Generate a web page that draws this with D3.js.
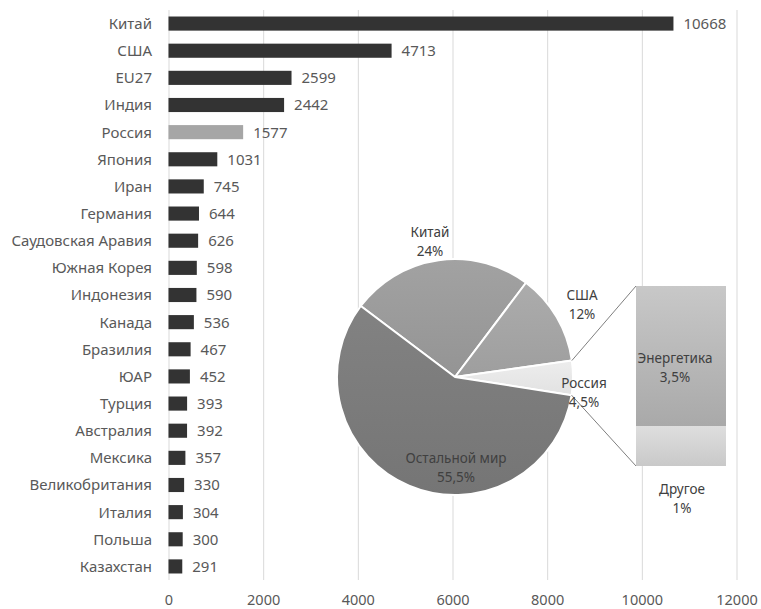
<!DOCTYPE html>
<html>
<head>
<meta charset="utf-8">
<script src="https://cdn.jsdelivr.net/npm/d3@7"></script>
<style>
  html, body { margin: 0; padding: 0; background: #fff; }
  svg { display: block; font-family: "Noto Sans", "DejaVu Sans", sans-serif; }
</style>
</head>
<body>
<svg id="chart" width="761" height="609"></svg>
<script>
// CO2 emissions by country (bars), world shares (pie) and Russia's breakdown (stacked bar)
const categories = ["Китай", "США", "EU27", "Индия", "Россия", "Япония", "Иран", "Германия",
  "Саудовская Аравия", "Южная Корея", "Индонезия", "Канада", "Бразилия", "ЮАР", "Турция",
  "Австралия", "Мексика", "Великобритания", "Италия", "Польша", "Казахстан"];
const emissions = [10668, 4713, 2599, 2442, 1577, 1031, 745, 644, 626, 598, 590, 536, 467, 452,
  393, 392, 357, 330, 304, 300, 291];
const highlighted = "Россия";
const xTicks = [0, 2000, 4000, 6000, 8000, 10000, 12000];

const shareNames = ["Китай", "США", "Россия", "Остальной мир"];
const shareValues = [24, 12, 4.5, 55.5];

const russiaParts = ["Энергетика", "Другое"];
const russiaValues = [3.5, 1];

// ---- layout ----
const W = 761, H = 609;
const plot = { left: 168.5, right: 736.5, top: 10, bottom: 580 };
const pieCenter = { x: 455, y: 377 };
const pieRadius = 118;
const pieStartDeg = -53;
const stackBox = { x0: 636, x1: 726, y0: 286, y1: 466 };

const ru = d3.formatLocale({ decimal: ",", thousands: "\u00a0", grouping: [3], currency: ["", " ₽"] });
const pct = v => ru.format(".3~r")(v) + "%";

const svg = d3.select("#chart");

const x = d3.scaleLinear().domain([0, 12000]).range([plot.left, plot.right]);
const y = d3.scaleBand().domain(categories).range([plot.top, plot.bottom])
  .paddingInner(0.48).paddingOuter(0.24);

// vertical gridlines
svg.append("g")
  .attr("transform", `translate(0,${plot.bottom})`)
  .call(d3.axisBottom(x).tickValues(xTicks).tickSize(-(plot.bottom - plot.top)).tickFormat(""))
  .call(g => g.select(".domain").remove())
  .call(g => g.selectAll("line").attr("stroke", "#d9d9d9").attr("stroke-width", 1));

// x axis labels
svg.append("g")
  .attr("transform", `translate(0,${plot.bottom})`)
  .call(d3.axisBottom(x).tickValues(xTicks).tickSize(0).tickPadding(15).tickFormat(d3.format("d")))
  .call(g => g.select(".domain").remove())
  .call(g => g.selectAll("text").attr("fill", "#595959").style("font-size", "14.5px")
    .style("font-family", "'Noto Sans', sans-serif"));

// bars
const rows = categories.map((c, i) => ({ name: c, value: emissions[i] }));
svg.append("g").selectAll("rect").data(rows).join("rect")
  .attr("x", x(0))
  .attr("y", d => y(d.name))
  .attr("width", d => x(d.value) - x(0))
  .attr("height", y.bandwidth())
  .attr("fill", d => d.name === highlighted ? "#a6a6a6" : "#333333");

// category labels
svg.append("g").selectAll("text").data(rows).join("text")
  .attr("x", 152)
  .attr("y", d => y(d.name) + y.bandwidth() / 2)
  .attr("dy", "0.36em")
  .attr("text-anchor", "end")
  .attr("fill", "#595959")
  .style("font-size", "15px")
  .text(d => d.name);

// value labels
svg.append("g").selectAll("text").data(rows).join("text")
  .attr("x", d => x(d.value) + 10)
  .attr("y", d => y(d.name) + y.bandwidth() / 2)
  .attr("dy", "0.36em")
  .attr("fill", "#595959")
  .style("font-size", "15px")
  .text(d => d3.format("d")(d.value));

// ---- pie of world shares ----
const shares = shareNames.map((n, i) => ({ name: n, value: shareValues[i] }));
const order = ["Китай", "США", "Россия", "Остальной мир"];
const pie = d3.pie().sort(null).value(d => d.value)
  .startAngle(pieStartDeg * Math.PI / 180)
  .endAngle((pieStartDeg + 360) * Math.PI / 180);
const arcs = pie(order.map(n => shares.find(s => s.name === n)));
const arc = d3.arc().innerRadius(0).outerRadius(pieRadius);

const defs = svg.append("defs");
const grads = {
  "Китай": ["#a2a2a2", "#949494"],
  "США": ["#acacac", "#9e9e9e"],
  "Россия": ["#ededed", "#e2e2e2"],
  "Остальной мир": ["#828282", "#757575"]
};
Object.entries(grads).forEach(([k, c], i) => {
  const g = defs.append("linearGradient").attr("id", "pg" + i)
    .attr("x1", 0).attr("y1", 0).attr("x2", 0).attr("y2", 1);
  g.append("stop").attr("offset", 0).attr("stop-color", c[0]);
  g.append("stop").attr("offset", 1).attr("stop-color", c[1]);
  grads[k] = "url(#pg" + i + ")";
});

const pieG = svg.append("g").attr("transform", `translate(${pieCenter.x},${pieCenter.y})`);
pieG.selectAll("path").data(arcs).join("path")
  .attr("d", arc)
  .attr("fill", d => grads[d.data.name])
  .attr("stroke", "#ffffff")
  .attr("stroke-width", 2)
  .attr("stroke-linejoin", "round");

// connectors from the Russia slice to the breakdown bar
const rus = arcs.find(a => a.data.name === "Россия");
const rim = a => [pieCenter.x + pieRadius * Math.sin(a), pieCenter.y - pieRadius * Math.cos(a)];
const p0 = rim(rus.startAngle), p1 = rim(rus.endAngle);
svg.append("line").attr("x1", p0[0]).attr("y1", p0[1]).attr("x2", stackBox.x0).attr("y2", stackBox.y0)
  .attr("stroke", "#7f7f7f").attr("stroke-width", 1);
svg.append("line").attr("x1", p1[0]).attr("y1", p1[1]).attr("x2", stackBox.x0).attr("y2", stackBox.y1)
  .attr("stroke", "#7f7f7f").attr("stroke-width", 1);

// Russia breakdown stacked bar
const sy = d3.scaleLinear().domain([0, d3.sum(russiaValues)]).range([stackBox.y0, stackBox.y1]);
let acc = 0;
const parts = russiaParts.map((n, i) => { const p = { name: n, value: russiaValues[i], y0: acc }; acc += russiaValues[i]; p.y1 = acc; return p; });
const partColors = { "Энергетика": ["#c8c8c8", "#a9a9a9"], "Другое": ["#dedede", "#c9c9c9"] };
parts.forEach((p, i) => {
  const g = defs.append("linearGradient").attr("id", "sg" + i)
    .attr("x1", 0).attr("y1", 0).attr("x2", 0).attr("y2", 1);
  g.append("stop").attr("offset", 0).attr("stop-color", partColors[p.name][0]);
  g.append("stop").attr("offset", 1).attr("stop-color", partColors[p.name][1]);
  p.fill = "url(#sg" + i + ")";
});
svg.append("g").selectAll("rect").data(parts).join("rect")
  .attr("x", stackBox.x0)
  .attr("width", stackBox.x1 - stackBox.x0)
  .attr("y", d => sy(d.y0))
  .attr("height", d => sy(d.y1) - sy(d.y0))
  .attr("fill", d => d.fill);

// labels for pie and breakdown
const labelPos = {
  "Китай": [430, 237],
  "США": [582, 300],
  "Россия": [584, 388],
  "Остальной мир": [456, 463],
  "Энергетика": [675, 363],
  "Другое": [682, 494]
};
const labelData = shares.concat(parts.map(p => ({ name: p.name, value: p.value })));
const lbl = svg.append("g").selectAll("text").data(labelData).join("text")
  .attr("text-anchor", "middle")
  .attr("fill", "#404040")
  .style("font-size", "13.5px")
  .attr("x", d => labelPos[d.name][0])
  .attr("y", d => labelPos[d.name][1]);
lbl.append("tspan").text(d => d.name);
lbl.append("tspan").attr("x", d => labelPos[d.name][0]).attr("dy", 18.5).text(d => pct(d.value));
</script>
</body>
</html>
